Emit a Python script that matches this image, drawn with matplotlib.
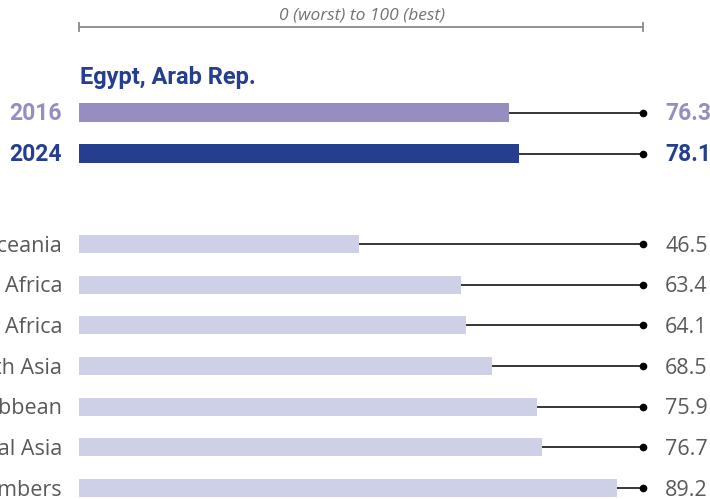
import matplotlib.pyplot as plt
from matplotlib import transforms

# data
years = ["2016", "2024"]
egypt_scores = [76.3, 78.1]
year_colors = ["#978dc0", "#253f8e"]

regions = ["Oceania", "Sub-Saharan Africa", "Middle East & North Africa",
           "South Asia", "Latin America & Caribbean", "Europe & Central Asia",
           "OECD high income members"]
region_scores = [46.5, 63.4, 64.1, 68.5, 75.9, 76.7, 89.2]
region_color = "#cdd0e6"

plt.rcParams['font.family'] = ['Open Sans', 'DejaVu Sans']
bold_font = ['Roboto', 'DejaVu Sans']

W, H = 710, 499
fig = plt.figure(figsize=(W / 100, H / 100), dpi=100)


def rect(x0, y0, x1, y1):
    # pixel box -> figure fraction
    return [x0 / W, 1 - y1 / H, (x1 - x0) / W, (y1 - y0) / H]


# top panel: Egypt
ax1 = fig.add_axes(rect(79, 92, 642.6, 174))
ax1.set_xlim(0, 100)
ax1.set_ylim(1.5, -0.5)
ax1.axis('off')
for i, (yr, v, c) in enumerate(zip(years, egypt_scores, year_colors)):
    ax1.barh(i, v, height=0.44, color=c, zorder=2)
    ax1.plot([v, 100], [i, i], color='black', lw=1.1, zorder=1, clip_on=False)
    ax1.plot(100, i, 'o', color='black', ms=4.5, clip_on=False)
    ax1.text(-3, i + 0.03, yr, ha='right', va='center', fontsize=16.5,
             fontweight='bold', color=c, family=bold_font, clip_on=False)
    ax1.text(104, i + 0.03, f"{v:.1f}", ha='left', va='center', fontsize=16.5,
             fontweight='bold', color=c, family=bold_font, clip_on=False)

# scale line above
tr = transforms.blended_transform_factory(ax1.transData, fig.transFigure)
yl = 1 - 27 / H
fig.add_artist(plt.Line2D([0, 100], [yl, yl], transform=tr, color='#8a8a8a', lw=1.3))
for xe in (0, 100):
    fig.add_artist(plt.Line2D([xe, xe], [yl - 0.009, yl + 0.009], transform=tr,
                              color='#8a8a8a', lw=1.3))
fig.text(362 / W, 1 - 15 / H, "0 (worst) to 100 (best)", ha='center', va='center',
         fontsize=12.5, style='italic', color='#737373')
fig.text(80 / W, 1 - 78 / H, "Egypt, Arab Rep.", ha='left', va='center',
         fontsize=17, fontweight='bold', color='#253f8e', family=bold_font)

# bottom panel: regions
ax2 = fig.add_axes(rect(79, 223.7, 682, 508.4))
ax2.set_xlim(0, 100)
ax2.set_ylim(6.5, -0.5)
ax2.axis('off')
tr2 = transforms.blended_transform_factory(ax1.transData, ax2.transData)
for i, (r, v) in enumerate(zip(regions, region_scores)):
    ax2.barh(i, v, height=0.44, color=region_color, zorder=2)
    xend = ax1.transData.inverted().transform(ax2.transData.transform((v, i)))[0]
    ax2.plot([xend, 100], [i, i], color='black', lw=1.1, transform=tr2, zorder=1,
             clip_on=False)
    ax2.plot(100, i, 'o', color='black', ms=4.5, transform=tr2, clip_on=False)
    ax2.text(-2.8, i + 0.05, r, ha='right', va='center', fontsize=15.5,
             color='#595959', clip_on=False)
    ax2.text(104, i + 0.05, f"{v:.1f}", ha='left', va='center', fontsize=15.5,
             color='#595959', transform=tr2, clip_on=False)

fig.savefig("out.png", dpi=100)
